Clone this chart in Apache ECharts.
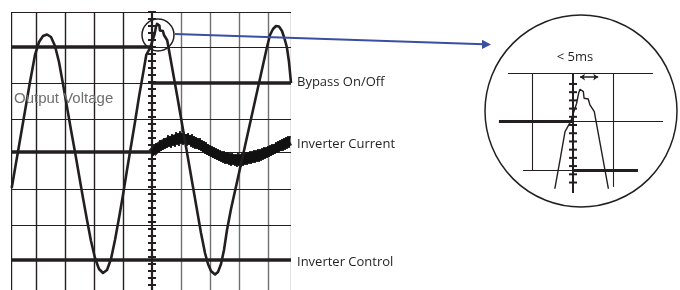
<!DOCTYPE html>
<html>
<head>
<meta charset="utf-8">
<script src="https://cdn.jsdelivr.net/npm/echarts@6/dist/echarts.min.js"></script>
<style>
  html, body { margin: 0; padding: 0; background: #fff; }
  #chart { width: 680px; height: 290px; }
</style>
</head>
<body>
<div id="chart"></div>
<script>
// x: time in screen divisions (29 units = 1 div = 5 ms), 0 = bypass switch
// y: trace level, 0 = inverter current baseline
var gridCols = [-141, -116, -87, -58, -29, 29, 58, 87, 116, 139];
var gridRows = [139.5, 105, 69, 32.5, 0, -37, -73.5, -108];

var bypassOnLevel = 105;
var bypassOffLevel = 69;
var controlLevel = -108;

var outputVoltage = [
  [-140.3, -36], [-136, -11], [-132, 12], [-127, 41], [-122, 70], [-117, 97], [-113, 110],
  [-109, 116], [-105, 117.5], [-101, 115], [-97, 106], [-93, 90], [-89, 68], [-85, 45],
  [-81, 22], [-77, 0], [-73, -23], [-69, -46], [-65, -68], [-61, -89], [-57, -106],
  [-53, -117], [-49, -121], [-45, -118], [-41, -107], [-37, -88], [-33, -66], [-29, -43],
  [-25, -18], [-21, 6], [-17, 30], [-12.9, 55.9], [-9, 78], [-5.7, 97.2], [-1.7, 104.5],
  [2.6, 117.9], [4, 125.2], [5, 128.1], [6.2, 128.8], [7.4, 126.4], [7.9, 121.6],
  [10.9, 121], [12.1, 116.7], [15.2, 111.8], [25.2, 55.9], [29, 34], [33, 11], [37, -12],
  [41, -35], [45, -58], [49, -81], [53, -101], [56, -112], [59, -119], [63, -122.5],
  [66, -120], [69, -112], [72, -98], [75, -78], [79, -57], [83, -39], [87, -21], [91, -3],
  [95, 15], [99, 33], [103, 51], [107, 69], [111, 87], [115, 105], [118, 117], [121, 123],
  [124, 126], [127, 125.5], [130, 121], [132, 115], [134, 108], [135, 104], [137, 90], [139, 69]
];

var inverterCurrent = [
  [0, 3], [1, -4], [2, 6], [3, -2], [4, 9], [5, -1], [6, 8], [7, 0], [8, 12], [9, 1], [10, 11],
  [11, 2], [12, 14], [13, 3], [14, 13], [15, 4], [16, 17], [17, 5], [18, 16], [19, 4], [20, 18],
  [21, 6], [22, 17], [23, 5], [24, 20], [25, 7], [26, 19], [27, 6], [28, 21], [29, 8], [30, 19],
  [31, 7], [32, 20], [33, 8], [34, 18], [35, 6], [36, 19], [37, 7], [38, 17], [39, 5], [40, 18],
  [41, 4], [42, 16], [43, 3], [44, 15], [45, 3], [46, 14], [47, 2], [48, 14], [49, 1], [50, 12],
  [51, 0], [52, 11], [53, -2], [54, 10], [55, -3], [56, 8], [57, -4], [58, 7], [59, -5], [60, 6],
  [61, -6], [62, 5], [63, -7], [64, 4], [65, -8], [66, 3], [67, -9], [68, 2], [69, -10], [70, 1],
  [71, -11], [72, 1], [73, -12], [74, 0], [75, -12], [76, 0], [77, -13], [78, -1], [79, -14], [80, -1],
  [81, -13], [82, -2], [83, -14], [84, -2], [85, -15], [86, -1], [87, -14], [88, -2], [89, -15], [90, -1],
  [91, -14], [92, -1], [93, -13], [94, 0], [95, -13], [96, 0], [97, -12], [98, 1], [99, -12], [100, 1],
  [101, -11], [102, 2], [103, -11], [104, 2], [105, -10], [106, 3], [107, -10], [108, 3], [109, -9], [110, 4],
  [111, -8], [112, 5], [113, -7], [114, 5], [115, -6], [116, 6], [117, -5], [118, 7], [119, -4], [120, 8],
  [121, -3], [122, 8], [123, -2], [124, 10], [125, -1], [126, 11], [127, 0], [128, 12], [129, 1], [130, 13],
  [131, 1], [132, 14], [133, 2], [134, 15], [135, 3], [136, 16], [137, 4], [138, 16]
];
var inverterCurrentMid = [
  [0, -1], [8, 6], [18, 11], [28, 14], [38, 12], [48, 7], [58, 1], [68, -4], [78, -7],
  [88, -8], [98, -6], [108, -3], [118, 1], [128, 6], [138, 11]
];

var labels = ['Output Voltage', 'Bypass On/Off', 'Inverter Current', 'Inverter Control'];
var zoomLabel = '< 5ms';

var X0 = -141, X1 = 139, Y0 = -138, Y1 = 140;
var INK = '#231f20';
var GREY = '#707070';

function seg(a, b, color, width) {
  return { coords: [a, b], lineStyle: { color: color, width: width, opacity: 1, curveness: 0 } };
}

// main scope grid
var mainGrid = [];
gridCols.forEach(function (x) {
  mainGrid.push(seg([x, Y0], [x, Y1], x < 0 ? INK : GREY, 1.4));
});
gridRows.forEach(function (y) {
  mainGrid.push(seg([X0, y], [X1, y], INK, 1.2));
});
var mainThick = [
  seg([X0, bypassOnLevel], [0, bypassOnLevel], INK, 3.5),
  seg([0, bypassOffLevel], [X1, bypassOffLevel], INK, 3.5),
  seg([X0, 0], [0, 0], INK, 3.5),
  seg([X0, controlLevel], [X1, controlLevel], INK, 3.5)
];
var mainTicks = [];
for (var t = -133; t <= 140; t += 7) mainTicks.push([0, t]);

// magnified view (same units, ~1.4x)
var magGrid = [
  seg([-46.4, 139.5], [57.1, 139.5], INK, 1.1),
  seg([0, 105], [64.3, 105], INK, 1.1),
  seg([-35.7, 69], [0, 69], INK, 1.1),
  seg([-29, 139.5], [-29, 69], INK, 1.1),
  seg([29, 139.5], [29, 56.8], INK, 1.1),
  seg([-52.9, 105], [0, 105], INK, 3),
  seg([0, 69], [46.4, 69], INK, 3),
  seg([0, 139.5], [0, 52.4], INK, 2)
];
var magTicks = [];
for (var m = 60; m <= 132; m += 6) magTicks.push([0, m]);

var chart = echarts.init(document.getElementById('chart'), null, { renderer: 'canvas' });

var linesBase = {
  type: 'lines', coordinateSystem: 'cartesian2d', silent: true,
  lineStyle: { opacity: 1, curveness: 0 }
};

var option = {
  animation: false,
  backgroundColor: '#fff',
  grid: [
    { left: 11, top: 12, width: 280, height: 278 },
    { left: 489, top: 73, width: 182, height: 115 }
  ],
  xAxis: [
    { type: 'value', gridIndex: 0, min: X0, max: X1, show: false },
    { type: 'value', gridIndex: 1, min: -60, max: 70, show: false }
  ],
  yAxis: [
    { type: 'value', gridIndex: 0, min: Y0, max: Y1, show: false },
    { type: 'value', gridIndex: 1, min: 56, max: 140, show: false }
  ],
  series: [
    Object.assign({}, linesBase, { xAxisIndex: 0, yAxisIndex: 0, data: mainGrid }),
    Object.assign({}, linesBase, { xAxisIndex: 0, yAxisIndex: 0, data: mainThick }),
    {
      type: 'line', xAxisIndex: 0, yAxisIndex: 0, data: inverterCurrentMid, smooth: true,
      showSymbol: false, silent: true, lineStyle: { color: INK, width: 9 }
    },
    {
      type: 'line', xAxisIndex: 0, yAxisIndex: 0, data: inverterCurrent,
      showSymbol: false, silent: true, lineStyle: { color: '#111', width: 1.7 }
    },
    Object.assign({}, linesBase, { xAxisIndex: 0, yAxisIndex: 0, data: [seg([0, Y0], [0, Y1], INK, 2.2)] }),
    {
      type: 'scatter', xAxisIndex: 0, yAxisIndex: 0, data: mainTicks, symbol: 'rect',
      symbolSize: [8, 2], silent: true, itemStyle: { color: INK, opacity: 1 }
    },
    {
      type: 'line', xAxisIndex: 0, yAxisIndex: 0, data: outputVoltage,
      showSymbol: false, silent: true, lineStyle: { color: INK, width: 2.6, join: 'round' }
    },
    Object.assign({}, linesBase, { xAxisIndex: 1, yAxisIndex: 1, clip: false, data: magGrid }),
    {
      type: 'scatter', xAxisIndex: 1, yAxisIndex: 1, data: magTicks, symbol: 'rect',
      symbolSize: [8, 2], silent: true, itemStyle: { color: INK, opacity: 1 }
    },
    {
      type: 'line', xAxisIndex: 1, yAxisIndex: 1, data: outputVoltage,
      showSymbol: false, silent: true, lineStyle: { color: INK, width: 1.4 }
    },
    Object.assign({}, linesBase, {
      xAxisIndex: 1, yAxisIndex: 1, symbol: ['arrow', 'arrow'], symbolSize: 5,
      data: [seg([5, 137], [18, 137], INK, 1.5)]
    })
  ],
  graphic: [
    { type: 'circle', shape: { cx: 158, cy: 35, r: 16 }, style: { fill: 'none', stroke: INK, lineWidth: 1.5 }, z: 100 },
    { type: 'line', shape: { x1: 175, y1: 34, x2: 484, y2: 44.3 }, style: { stroke: '#3b4fa0', lineWidth: 2 }, z: 100 },
    { type: 'polygon', shape: { points: [[482, 39.8], [491, 44.5], [482, 49]] }, style: { fill: '#3b4fa0' }, z: 100 },
    { type: 'circle', shape: { cx: 581, cy: 111, r: 96 }, style: { fill: 'none', stroke: INK, lineWidth: 1.5 }, z: 100 },
    {
      type: 'text', x: 14, y: 99, z: 100,
      style: { text: labels[0], font: '15px "Liberation Sans"', fill: '#6f6f6f', textVerticalAlign: 'middle' }
    },
    {
      type: 'text', x: 297, y: 82, z: 100,
      style: { text: labels[1], font: '13px "Open Sans"', fill: INK, textVerticalAlign: 'middle' }
    },
    {
      type: 'text', x: 297, y: 144, z: 100,
      style: { text: labels[2], font: '13px "Open Sans"', fill: INK, textVerticalAlign: 'middle' }
    },
    {
      type: 'text', x: 297, y: 262, z: 100,
      style: { text: labels[3], font: '13px "Open Sans"', fill: INK, textVerticalAlign: 'middle' }
    },
    {
      type: 'text', x: 575, y: 57, z: 100,
      style: { text: zoomLabel, font: '13px "Open Sans"', fill: INK, textAlign: 'center', textVerticalAlign: 'middle' }
    }
  ]
};

chart.setOption(option);
</script>
</body>
</html>
